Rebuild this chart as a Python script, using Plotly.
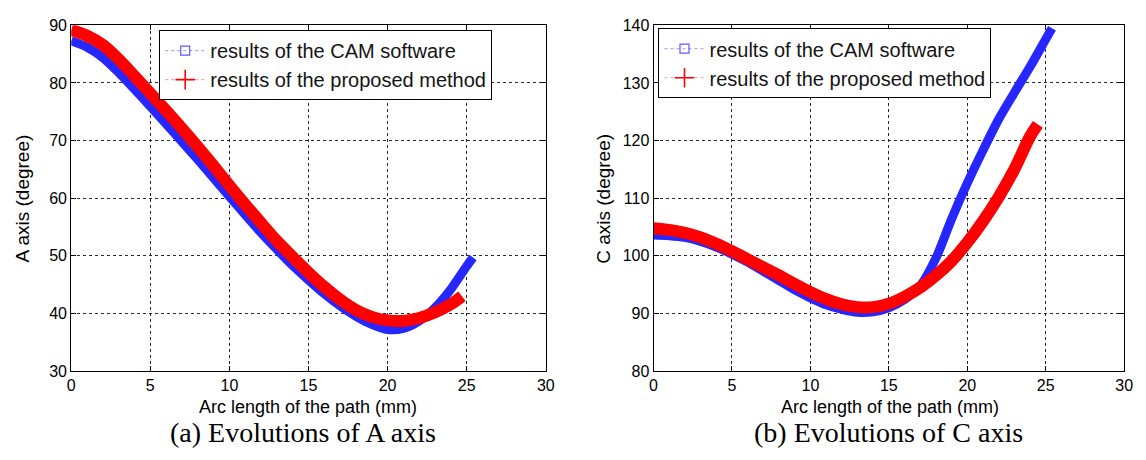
import plotly.graph_objects as go

# ---- A axis evolution (left panel) ----
a_cam_x = [0, 1, 2, 3, 4, 5, 6, 7, 8, 9, 10, 11, 12, 13, 14, 15, 16, 17, 18, 19, 20, 21, 22, 23, 24, 25, 25.4]
a_cam_y = [87.3, 86.2, 84.4, 81.8, 78.9, 75.9, 72.9, 69.8, 66.7, 63.5, 60.3, 57.1, 54.0, 51.1, 48.3,
           45.8, 43.4, 41.3, 39.5, 38.1, 37.2, 37.4, 38.7, 41.0, 44.2, 48.2, 49.7]
a_new_x = [0, 1, 2, 3, 4, 5, 6, 7, 8, 9, 10, 11, 12, 13, 14, 15, 16, 17, 18, 19, 20, 21, 22, 23, 24, 24.7]
a_new_y = [89.2, 88.2, 86.6, 84.1, 81.2, 78.2, 75.2, 72.1, 68.9, 65.6, 62.2, 58.9, 55.7, 52.6, 49.8,
           47.1, 44.6, 42.4, 40.6, 39.4, 38.8, 38.7, 39.2, 40.2, 41.6, 43.0]

# ---- C axis evolution (right panel) ----
c_cam_x = [0, 1, 2, 3, 4, 5, 6, 7, 8, 9, 10, 11, 12, 13, 14, 15, 16, 17, 18, 19, 20, 21, 22, 23, 24, 25, 25.4]
c_cam_y = [103.6, 103.5, 103.2, 102.5, 101.5, 100.3, 98.9, 97.3, 95.7, 94.1, 92.7, 91.5, 90.7, 90.2, 90.3,
           91.0, 92.4, 94.8, 99.6, 106.4, 112.6, 118.3, 123.7, 128.3, 132.8, 137.6, 139.5]
c_new_x = [0, 1, 2, 3, 4, 5, 6, 7, 8, 9, 10, 11, 12, 13, 14, 15, 16, 17, 18, 19, 20, 21, 22, 23, 24, 24.5]
c_new_y = [104.8, 104.5, 104.0, 103.2, 102.1, 100.8, 99.4, 98.0, 96.6, 95.1, 93.7, 92.5, 91.6, 91.1, 91.1,
           91.7, 92.9, 94.5, 96.6, 99.1, 102.3, 106.0, 110.2, 115.0, 120.7, 122.8]

x_ticks = [0, 5, 10, 15, 20, 25, 30]
a_ticks = [30, 40, 50, 60, 70, 80, 90]
c_ticks = [80, 90, 100, 110, 120, 130, 140]

CAM_NAME = "results of the CAM software"
NEW_NAME = "results of the proposed method"
BLUE = "rgb(38,38,255)"
RED = "rgb(255,0,0)"
SANS = "Liberation Sans, Arial, Helvetica, sans-serif"
SERIF = "Liberation Serif, Times New Roman, serif"

fig = go.Figure()

cam_marker = dict(symbol="square-open", size=9, color="rgb(90,90,255)",
                  line=dict(width=1.2, color="rgb(90,90,255)"))
new_marker = dict(symbol="cross-thin", size=14, color=RED,
                  line=dict(width=1.6, color=RED))
cam_dots = dict(color="rgb(150,150,255)", width=1, dash="dot")
new_dots = dict(color="rgb(255,150,150)", width=1, dash="dot")


def add_band(xs, ys, xa, ya, color, width):
    # densely packed samples merge into one wide band
    fig.add_trace(go.Scatter(
        x=xs, y=ys, xaxis=xa, yaxis=ya, mode="lines",
        line=dict(color=color, width=width, shape="spline", smoothing=0.8),
        showlegend=False, hoverinfo="skip"))


def add_key(legend, name, line, marker):
    # legend entry: dotted connector with the sample marker
    fig.add_trace(go.Scatter(
        x=[None], y=[None], mode="lines+markers", name=name,
        legend=legend, showlegend=True, line=line, marker=marker))


add_band(a_cam_x, a_cam_y, "x", "y", BLUE, 9)
add_band(a_new_x, a_new_y, "x", "y", RED, 12)
add_band(c_cam_x, c_cam_y, "x2", "y2", BLUE, 9)
add_band(c_new_x, c_new_y, "x2", "y2", RED, 12)
add_key("legend", CAM_NAME, cam_dots, cam_marker)
add_key("legend", NEW_NAME, new_dots, new_marker)
add_key("legend2", CAM_NAME, cam_dots, cam_marker)
add_key("legend2", NEW_NAME, new_dots, new_marker)

W, H = 1146, 460
plot_top, plot_bot = 18, 377
ydom = [1 - plot_bot / H, 1 - plot_top / H]

axis_common = dict(
    showline=True, linecolor="black", linewidth=1, mirror="ticks",
    ticks="inside", ticklen=5, tickcolor="black",
    showgrid=True, gridcolor="rgb(40,40,40)", griddash="dot", gridwidth=1,
    zeroline=False, tickfont=dict(family=SANS, size=16, color="black"),
)

legend_common = dict(
    xanchor="left", yanchor="top", bgcolor="white",
    bordercolor="black", borderwidth=1,
    font=dict(family=SANS, size=20, color="rgb(20,20,20)"),
    itemwidth=40, tracegroupgap=0,
)

fig.update_layout(
    width=W, height=H, margin=dict(l=0, r=0, t=0, b=0),
    paper_bgcolor="white", plot_bgcolor="white",
    xaxis=dict(domain=[68 / W, 548 / W], range=[0, 30], tickvals=x_ticks,
               anchor="y", **axis_common),
    yaxis=dict(domain=ydom, range=[30, 90], tickvals=a_ticks,
               anchor="x", **axis_common),
    xaxis2=dict(domain=[657 / W, 1133 / W], range=[0, 30], tickvals=x_ticks,
                anchor="y2", **axis_common),
    yaxis2=dict(domain=ydom, range=[80, 140], tickvals=c_ticks,
                anchor="x2", **axis_common),
    legend=dict(x=157 / W, y=1 - 23 / H, **legend_common),
    legend2=dict(x=662 / W, y=1 - 21 / H, **legend_common),
    showlegend=True,
)

annos = [
    dict(text="Arc length of the path (mm)", x=307 / W, y=1 - 414 / H,
         font=dict(family=SANS, size=18)),
    dict(text="Arc length of the path (mm)", x=896 / W, y=1 - 414 / H,
         font=dict(family=SANS, size=18)),
    dict(text="A axis (degree)", x=19 / W, y=1 - 198 / H, textangle=-90,
         font=dict(family=SANS, size=19)),
    dict(text="C axis (degree)", x=607 / W, y=1 - 198 / H, textangle=-90,
         font=dict(family=SANS, size=19)),
    dict(text="(a) Evolutions of A axis", x=302 / W, y=1 - 441 / H,
         font=dict(family=SERIF, size=28)),
    dict(text="(b) Evolutions of C axis", x=895 / W, y=1 - 441 / H,
         font=dict(family=SERIF, size=28)),
]
for a in annos:
    a.update(xref="paper", yref="paper", showarrow=False,
             xanchor="center", yanchor="middle")
    a["font"]["color"] = "black"
    fig.add_annotation(**a)

fig.write_html("out.html")
